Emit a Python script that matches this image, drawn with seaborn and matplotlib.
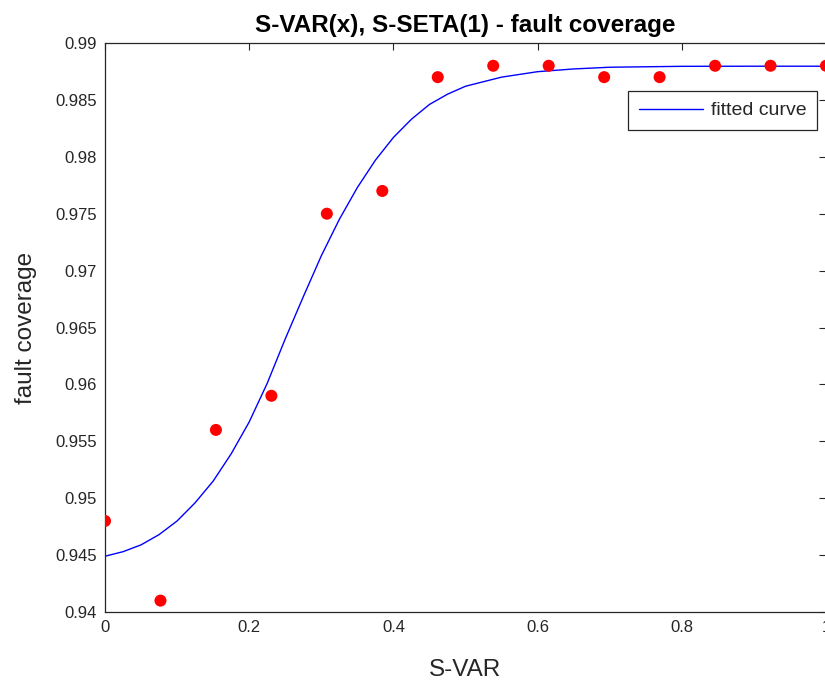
import matplotlib
matplotlib.use("Agg")
import matplotlib.pyplot as plt
import seaborn as sns
import pandas as pd

# Measured fault coverage for each S-VAR setting
svar = [0.0, 1/13, 2/13, 3/13, 4/13, 5/13, 6/13, 7/13, 8/13, 9/13, 10/13, 11/13, 12/13, 1.0]
coverage = [0.948, 0.941, 0.956, 0.959, 0.975, 0.977, 0.987, 0.988,
            0.988, 0.987, 0.987, 0.988, 0.988, 0.988]

# Fitted curve evaluated at sample S-VAR values
fit_x = [0.000, 0.025, 0.050, 0.075, 0.100, 0.125, 0.150, 0.175, 0.200,
         0.225, 0.250, 0.275, 0.300, 0.325, 0.350, 0.375, 0.400, 0.425,
         0.450, 0.475, 0.500, 0.550, 0.600, 0.650, 0.700, 0.800, 0.900, 1.000]
fit_y = [0.9449, 0.9453, 0.9459, 0.9468, 0.9480, 0.9496, 0.9515, 0.9539,
         0.9567, 0.9601, 0.9640, 0.9677, 0.9713, 0.9745, 0.9773, 0.9797,
         0.9817, 0.9833, 0.9846, 0.9855, 0.9862, 0.9870, 0.98748, 0.98772,
         0.98787, 0.98795, 0.98796, 0.98796]

x_ticks = [0, 0.2, 0.4, 0.6, 0.8, 1]
x_tick_labels = ["0", "0.2", "0.4", "0.6", "0.8", "1"]
y_ticks = [0.94, 0.945, 0.95, 0.955, 0.96, 0.965, 0.97, 0.975, 0.98, 0.985, 0.99]
y_tick_labels = ["0.94", "0.945", "0.95", "0.955", "0.96", "0.965", "0.97",
                 "0.975", "0.98", "0.985", "0.99"]

points = pd.DataFrame({"S-VAR": svar, "fault coverage": coverage})
curve = pd.DataFrame({"S-VAR": fit_x, "fault coverage": fit_y})

sns.set_theme(style="white")
plt.rcParams["font.family"] = ["Liberation Sans", "DejaVu Sans"]

dark = "#262626"
fig = plt.figure(figsize=(8.25, 6.82), dpi=100)
ax = fig.add_axes([105 / 825, 70 / 682, 721 / 825, 569 / 682])

sns.scatterplot(data=points, x="S-VAR", y="fault coverage", ax=ax,
                color="red", marker="o", s=75, edgecolor="none",
                legend=False, zorder=3)
sns.lineplot(data=curve, x="S-VAR", y="fault coverage", ax=ax,
             color="blue", linewidth=1.0, label="fitted curve", zorder=2)

ax.set_xlim(0, 1)
ax.set_ylim(0.94, 0.99)
ax.set_xticks(x_ticks)
ax.set_xticklabels(x_tick_labels)
ax.set_yticks(y_ticks)
ax.set_yticklabels(y_tick_labels)

ax.tick_params(axis="both", direction="in", length=5, width=0.8,
               colors=dark, labelsize=12, top=True, right=True, pad=6)
for side in ax.spines.values():
    side.set_color(dark)
    side.set_linewidth(0.9)

ax.set_xlabel("S-VAR", fontsize=17.5, color=dark, labelpad=17)
ax.set_ylabel("fault coverage", fontsize=17.5, color=dark, labelpad=13)
ax.set_title("S-VAR(x), S-SETA(1) - fault coverage", fontsize=17.5,
             fontweight="bold", color="black", pad=8)

leg = ax.legend(loc="upper right", bbox_to_anchor=(0.9875, 0.9156),
                borderaxespad=0, fontsize=14, frameon=True, fancybox=False,
                framealpha=1, borderpad=0.55, handlelength=3.3,
                handletextpad=0.4)
leg.get_frame().set_edgecolor(dark)
leg.get_frame().set_linewidth(0.9)

fig.savefig("out.png", dpi=100)
